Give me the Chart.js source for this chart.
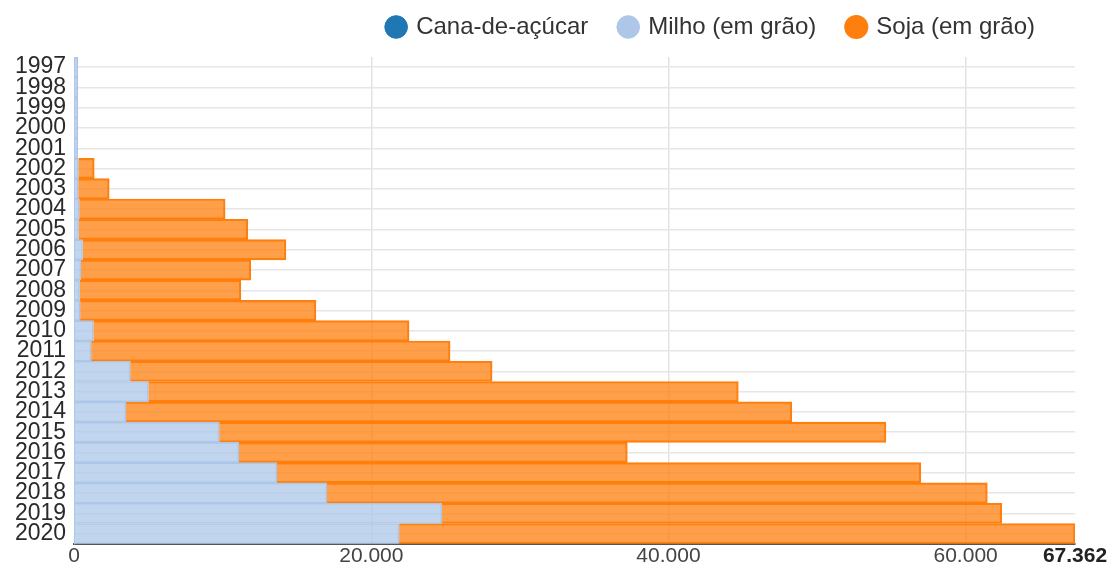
<!DOCTYPE html>
<html>
<head>
<meta charset="utf-8">
<script src="https://cdn.jsdelivr.net/npm/chart.js@4/dist/chart.umd.min.js"></script>
<style>
    html, body { margin: 0; padding: 0; background: #fff; }
    #wrap { width: 1115px; height: 569px; }
</style>
</head>
<body>
<div id="wrap"><canvas id="chart"></canvas></div>
<script>
// =====================================
// DATA
// =====================================
const years = ["1997", "1998", "1999", "2000", "2001", "2002", "2003", "2004", "2005", "2006", "2007", "2008",
    "2009", "2010", "2011", "2012", "2013", "2014", "2015", "2016", "2017", "2018", "2019", "2020"];

const cana = [0, 0, 0, 0, 0, 0, 0, 0, 0, 0, 0, 0, 0, 0, 0, 0, 0, 0, 0, 0, 0, 0, 0, 0];

const milho = [250, 250, 250, 250, 250, 280, 270, 340, 290, 560, 450, 360,
    400, 1290, 1140, 3770, 4990, 3480, 9760, 11080, 13640, 17010, 24740, 21870];

const soja = [0, 0, 0, 0, 0, 1070, 2090, 9820, 11400, 13690, 11440, 10860,
    15870, 21250, 24160, 24360, 39710, 44820, 44880, 26150, 43340, 44450, 37690, 45492];

const xTicks = [0, 20000, 40000, 60000, 67362];
const xMax = 67362;

// =====================================
// HELPERS
// =====================================
function fmt(v) {
    return Number(v).toLocaleString("pt-BR");
}

function isLast(c) {
    return !!(c && c.tick && c.tick.value === xMax);
}

// legend: fixed height, nudged up and left
const legendTweak = {
    id: "legendTweak",
    beforeLayout(chart) {
        const lg = chart.legend;
        if (!lg || lg._patched) return;
        const fit = lg.fit;
        lg.fit = function () {
            fit.call(this);
            this.height = 57;
        };
        lg._patched = true;
    },
    afterLayout(chart) {
        const lg = chart.legend;
        if (!lg) return;
        lg.top -= 17;
        lg.right -= 8;
    }
};

// =====================================
// CHART
// =====================================
const ctx = document.getElementById("chart");

new Chart(ctx, {
    type: "bar",
    data: {
        labels: years,
        datasets: [
            {
                label: "Cana-de-açúcar",
                data: cana,
                backgroundColor: "rgba(31,119,180,0.75)",
                borderColor: "#1f77b4",
                borderWidth: 1
            },
            {
                label: "Milho (em grão)",
                data: milho,
                backgroundColor: "rgba(174,199,232,0.75)",
                borderColor: "#aec7e8",
                borderWidth: 1
            },
            {
                label: "Soja (em grão)",
                data: soja,
                backgroundColor: "rgba(255,127,14,0.75)",
                borderColor: "#ff7f0e",
                borderWidth: 1.5
            }
        ]
    },
    options: {
        indexAxis: "y",
        responsive: true,
        maintainAspectRatio: false,
        animation: false,
        barPercentage: 1,
        categoryPercentage: 1,
        layout: { padding: { left: 7, right: 40, top: 0, bottom: 0 } },
        plugins: {
            legend: {
                position: "top",
                align: "end",
                labels: {
                    usePointStyle: true,
                    pointStyle: "circle",
                    boxWidth: 16,
                    boxHeight: 16,
                    padding: 32,
                    color: "#333",
                    font: { family: "Arial, 'Liberation Sans', sans-serif", size: 24 },
                    generateLabels(chart) {
                        const items = Chart.defaults.plugins.legend.labels.generateLabels(chart);
                        items.forEach(it => {
                            const ds = chart.data.datasets[it.datasetIndex];
                            it.fillStyle = ds.borderColor;
                            it.strokeStyle = ds.borderColor;
                        });
                        return items;
                    }
                }
            },
            tooltip: { enabled: false }
        },
        scales: {
            x: {
                stacked: true,
                min: 0,
                max: xMax,
                afterBuildTicks(scale) {
                    scale.ticks = xTicks.map(v => ({ value: v }));
                },
                grid: {
                    color: c => (c.tick && (c.tick.value === 0 || c.tick.value === xMax)) ? "rgba(0,0,0,0)" : "#e3e3e3",
                    lineWidth: 1.5,
                    drawTicks: false
                },
                border: { color: "#555", width: 2 },
                ticks: {
                    autoSkip: false,
                    maxRotation: 0,
                    padding: 0,
                    color: c => isLast(c) ? "#222" : "#444",
                    font: c => ({
                        family: "Arial, 'Liberation Sans', sans-serif",
                        size: 21,
                        weight: isLast(c) ? "bold" : "normal"
                    }),
                    callback: v => fmt(v)
                }
            },
            y: {
                stacked: true,
                grid: {
                    offset: false,
                    color: "#e6e6e6",
                    lineWidth: 1.5,
                    drawTicks: false
                },
                border: { color: "#aec7e8", width: 1 },
                ticks: {
                    autoSkip: false,
                    padding: 8,
                    color: "#2a2a2a",
                    font: { family: "Arial, 'Liberation Sans', sans-serif", size: 23 }
                }
            }
        }
    },
    plugins: [legendTweak]
});
</script>
</body>
</html>
